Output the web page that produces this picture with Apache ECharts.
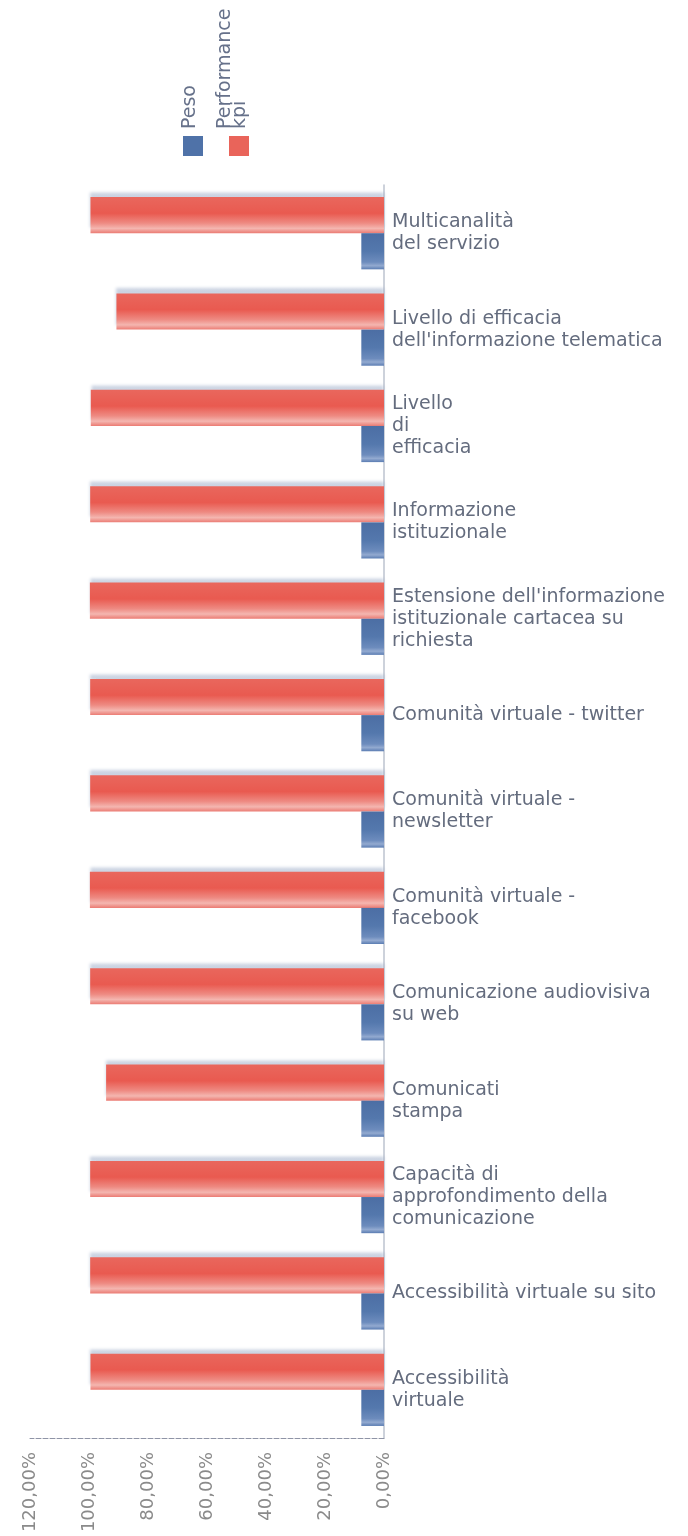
<!DOCTYPE html>
<html>
<head>
<meta charset="utf-8">
<script src="https://cdn.jsdelivr.net/npm/echarts@6/dist/echarts.min.js"></script>
<style>
html,body{margin:0;padding:0;background:#fff;}
#chart{width:688px;height:1536px;}
</style>
</head>
<body>
<div id="chart"></div>
<script>
// ---- data ----
var categories = [
  "Multicanalità\ndel servizio",
  "Livello di efficacia\ndell'informazione telematica",
  "Livello\ndi\nefficacia",
  "Informazione\nistituzionale",
  "Estensione dell'informazione\nistituzionale cartacea su\nrichiesta",
  "Comunità virtuale - twitter",
  "Comunità virtuale -\nnewsletter",
  "Comunità virtuale -\nfacebook",
  "Comunicazione audiovisiva\nsu web",
  "Comunicati\nstampa",
  "Capacità di\napprofondimento della\ncomunicazione",
  "Accessibilità virtuale su sito",
  "Accessibilità\nvirtuale"
];
var performanceKpi = [99.5, 90.7, 99.4, 99.6, 99.7, 99.6, 99.6, 99.7, 99.6, 94.2, 99.6, 99.6, 99.5];
var peso = [7.69, 7.69, 7.69, 7.69, 7.69, 7.69, 7.69, 7.69, 7.69, 7.69, 7.69, 7.69, 7.69];
var seriesNames = ["Peso", "Performance", "kpi"];
var tickValues = [0, 20, 40, 60, 80, 100, 120];

var FONT = "DejaVu Sans";
var chart = echarts.init(document.getElementById('chart'), null, {renderer: 'canvas'});

var redGrad = new echarts.graphic.LinearGradient(0, 0, 0, 1, [
  {offset: 0, color: '#e9675d'},
  {offset: 0.45, color: '#e95a50'},
  {offset: 0.72, color: '#ee8a82'},
  {offset: 0.87, color: '#f4b6b0'},
  {offset: 1, color: '#eb7b73'}
]);
var blueGrad = new echarts.graphic.LinearGradient(0, 0, 0, 1, [
  {offset: 0, color: '#4c6ea4'},
  {offset: 0.5, color: '#5478ad'},
  {offset: 0.8, color: '#6d8cbd'},
  {offset: 0.9, color: '#93aad0'},
  {offset: 1, color: '#5a7cb2'}
]);

var option = {
  backgroundColor: '#ffffff',
  animation: false,
  grid: {left: 30, right: 304, top: 185, bottom: 98, containLabel: false},
  xAxis: {
    type: 'value',
    min: tickValues[0],
    max: tickValues[tickValues.length - 1],
    interval: 20,
    inverse: true,
    position: 'bottom',
    axisLine: {show: true, lineStyle: {color: '#8f94a6', width: 1, type: [5, 2]}},
    axisTick: {show: false},
    splitLine: {show: false},
    axisLabel: {
      rotate: 90,
      margin: 14,
      color: '#8a8a8a',
      fontFamily: FONT,
      fontSize: 18,
      formatter: function (v) { return v.toFixed(2).replace('.', ',') + '%'; }
    }
  },
  yAxis: {
    type: 'category',
    data: categories,
    inverse: true,
    position: 'right',
    axisLine: {show: true, lineStyle: {color: '#bcc3cf', width: 1.5}},
    axisTick: {show: false},
    splitLine: {show: false},
    axisLabel: {
      margin: 8,
      color: '#646c7e',
      fontFamily: FONT,
      fontSize: 19,
      lineHeight: 22,
      align: 'left',
      padding: [10, 0, 0, 0]
    }
  },
  series: [
    {
      name: seriesNames[1] + ' ' + seriesNames[2],
      type: 'bar',
      data: performanceKpi,
      barGap: '0%',
      barCategoryGap: '25%',
      itemStyle: {
        color: redGrad,
        shadowColor: 'rgba(140,158,190,0.45)',
        shadowBlur: 3,
        shadowOffsetY: -5
      }
    },
    {
      name: seriesNames[0],
      type: 'bar',
      data: peso,
      barGap: '0%',
      barCategoryGap: '25%',
      itemStyle: {color: blueGrad}
    }
  ],
  graphic: [
    {type: 'rect', shape: {x: 183, y: 136, width: 20, height: 20}, style: {fill: '#4f72a8'}},
    {type: 'rect', shape: {x: 229, y: 136, width: 20, height: 20}, style: {fill: '#e9645a'}},
    {type: 'text', x: 190, y: 129, rotation: Math.PI / 2,
      style: {text: seriesNames[0], fill: '#66718a', font: '19px "DejaVu Sans"', textAlign: 'left', textVerticalAlign: 'middle'}},
    {type: 'text', x: 225, y: 129, rotation: Math.PI / 2,
      style: {text: seriesNames[1], fill: '#66718a', font: '19px "DejaVu Sans"', textAlign: 'left', textVerticalAlign: 'middle'}},
    {type: 'text', x: 240, y: 129, rotation: Math.PI / 2,
      style: {text: seriesNames[2], fill: '#66718a', font: '19px "DejaVu Sans"', textAlign: 'left', textVerticalAlign: 'middle'}}
  ]
};
chart.setOption(option);
</script>
</body>
</html>
